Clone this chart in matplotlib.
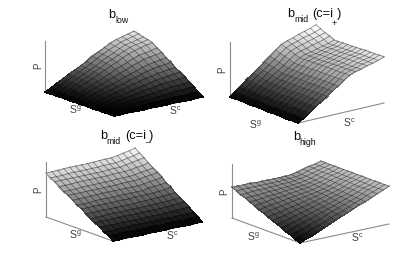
import numpy as np
import matplotlib
matplotlib.use("Agg")
import matplotlib.pyplot as plt

plt.rcParams['font.family'] = ['Liberation Sans', 'DejaVu Sans']
plt.rcParams['mathtext.fontset'] = 'custom'
plt.rcParams['mathtext.rm'] = 'Liberation Sans'
plt.rcParams['mathtext.it'] = 'Liberation Sans'
plt.rcParams['mathtext.default'] = 'rm'

# Heights, % of the P axis. Row: along S^g, column: along S^c side.
low = [
 [0,6,12,19,25,31,37,43,50,56,62,68,73,76,79,82],
 [0,6,12,19,24,30,36,42,49,55,61,66,71,74,77,80],
 [0,6,11,18,24,29,35,40,47,53,58,64,69,71,74,77],
 [0,5,11,17,23,28,34,39,46,51,57,62,67,70,72,75],
 [0,5,11,17,22,27,33,38,44,49,55,60,64,67,70,72],
 [0,5,9,15,20,24,29,34,40,44,49,54,58,60,62,65],
 [0,4,9,14,18,22,27,31,36,40,45,49,53,55,57,59],
 [0,4,8,12,16,20,23,27,32,35,39,43,46,48,50,52],
 [0,3,7,11,14,17,21,24,28,31,35,38,41,43,44,46],
 [0,3,6,9,12,15,18,21,24,27,30,32,35,36,38,39],
 [0,2,5,8,10,12,15,17,20,22,25,27,29,30,32,33],
 [0,2,4,6,8,10,12,14,16,18,20,22,23,24,25,26],
 [0,1,3,5,6,7,9,10,12,13,15,16,18,18,19,20],
 [0,1,2,3,4,5,6,7,8,9,10,11,12,12,13,13],
 [0,1,1,2,2,3,3,4,4,5,5,6,6,6,7,7],
 [0,0,0,0,0,0,0,0,0,0,0,0,0,0,0,0],
]
mid_plus = [
 [0,8,16,25,33,41,49,57,66,74,78,81,85,88,91,95],
 [0,8,15,24,32,39,47,55,63,71,75,78,82,84,87,91],
 [0,7,15,23,30,38,45,52,61,68,72,75,78,81,84,87],
 [0,7,14,22,29,36,43,50,58,65,69,71,75,77,80,84],
 [0,7,13,21,28,34,41,48,55,62,66,68,71,74,76,80],
 [0,7,13,21,28,34,41,48,55,62,66,68,71,74,76,80],
 [0,7,14,21,28,35,42,48,56,63,66,69,72,75,77,81],
 [0,7,14,21,28,35,42,48,56,63,66,69,72,75,77,81],
 [0,7,14,21,28,35,42,48,56,63,66,69,72,75,77,81],
 [0,7,14,22,28,35,42,49,57,64,67,70,73,76,78,82],
 [0,7,14,22,28,35,42,49,57,64,67,70,73,76,78,82],
 [0,7,14,22,29,36,43,50,57,64,68,70,74,77,79,83],
 [0,7,14,22,29,36,43,50,57,64,68,70,74,77,79,83],
 [0,7,14,22,29,36,43,50,57,64,68,70,74,77,79,83],
 [0,7,14,22,29,36,43,50,58,65,69,71,75,77,80,84],
 [0,7,14,22,29,36,43,50,58,65,69,71,75,77,80,84],
]
mid_minus = [
 [80,80,80,81,81,81,81,81,81,82,82,82,84,86,88,91],
 [74,74,74,75,75,75,75,75,75,76,76,76,78,80,82,85],
 [70,70,70,70,70,70,70,70,70,71,71,71,73,75,77,79],
 [64,64,64,65,65,65,65,65,65,66,66,66,67,69,70,73],
 [58,58,58,59,59,59,59,59,59,60,60,60,61,63,64,66],
 [54,54,54,54,54,54,54,54,54,55,55,55,56,58,59,61],
 [48,48,48,49,49,49,49,49,49,49,49,49,50,52,53,55],
 [42,42,42,43,43,43,43,43,43,43,43,43,45,46,47,48],
 [38,38,38,38,38,38,38,38,38,39,39,39,39,40,41,43],
 [32,32,32,32,32,32,32,32,32,33,33,33,34,34,35,36],
 [26,26,26,27,27,27,27,27,27,27,27,27,28,28,29,30],
 [22,22,22,22,22,22,22,22,22,22,22,22,23,23,24,25],
 [16,16,16,16,16,16,16,16,16,16,16,16,17,17,18,18],
 [10,10,10,11,11,11,11,11,11,11,11,11,11,11,11,12],
 [6,6,6,6,6,6,6,6,6,6,6,6,6,6,6,6],
 [0,0,0,0,0,0,0,0,0,0,0,0,0,0,0,0],
]
high = [
 [57,57,57,57,56,56,56,56,56,56,57,59,62,65,67,70],
 [53,54,54,54,54,54,54,54,55,55,56,58,62,65,67,70],
 [49,50,51,51,51,52,52,53,53,54,56,58,61,64,67,70],
 [46,47,47,48,49,49,50,51,52,53,55,57,61,64,67,70],
 [42,43,44,46,46,47,49,50,51,52,54,57,60,64,66,70],
 [38,40,41,43,44,45,47,48,50,51,54,56,60,64,66,70],
 [34,36,38,40,41,43,45,47,48,50,53,56,60,63,66,70],
 [30,33,35,37,39,41,43,45,47,49,52,55,59,63,66,70],
 [27,29,31,34,36,38,41,44,46,49,52,55,59,63,66,70],
 [23,26,28,31,34,36,39,42,45,48,51,54,58,63,66,70],
 [19,22,25,28,31,34,37,41,43,47,50,54,58,62,66,70],
 [15,19,22,25,29,32,35,39,42,46,50,53,58,62,66,70],
 [11,15,19,23,26,30,34,38,41,45,49,53,57,62,65,70],
 [8,12,15,20,24,27,32,36,40,44,48,52,57,62,65,70],
 [4,8,12,17,21,25,30,34,38,43,48,52,57,61,65,70],
 [0,5,9,14,19,23,28,33,37,42,47,51,56,61,65,70],
]
surfaces = [low, mid_plus, mid_minus, high]

# Title pieces: (text, x, baseline y, font size) in pixels / points
title_parts = [
    [("b",108,18,9.2),("low",115,23,6.3)],
    [("b",287,17,9.2),("mid",294,22,6.3),("(c=i",312,17,9.2),("+",332,26,6.3),(")",337,17,9.2)],
    [("b",100,139,9.2),("mid",106,144,6.3),("(c=i",125,139,9.2),("_",145,141,6.3),(")",149,139,9.2)],
    [("b",293,140,9.2),("high",299,145,6.3)],
]

# Panel geometry in pixels: left, bottom, right base corners, P-axis top
corners = [((45,92),(114,116),(203,97),41),
           ((230,97),(298,123),(384,103),42),
           ((46,217),(113,241),(202,222),162),
           ((232,218),(300,243),(389,224),164)]
sg_pos = [(75,110),(255,125),(75,235),(253,237)]
sc_pos = [(175,111),(349,123),(172,236),(357,238)]
p_pos = [(38,66),(222,70),(38,190),(224,192)]

fig = plt.figure(figsize=(4.15, 2.63), dpi=100)
ax = fig.add_axes([0, 0, 1, 1])
ax.set_xlim(0, 415); ax.set_ylim(263, 0); ax.axis('off')

for k, Z in enumerate(surfaces):
    Z = np.array(Z, float)
    L, B, R, top = (np.array(c, float) if isinstance(c, tuple) else c for c in corners[k])
    n, m = Z.shape
    u, v = np.meshgrid(np.linspace(0, 1, n), np.linspace(0, 1, m), indexing='ij')
    X = L[0] + u*(B[0]-L[0]) + v*(R[0]-B[0])
    Yb = L[1] + u*(B[1]-L[1]) + v*(R[1]-B[1])
    Y = Yb - Z/100*(L[1]-top)
    ax.plot([L[0], L[0]], [L[1], top], color='0.55', lw=0.8, zorder=1)
    ax.plot([L[0], B[0], R[0]], [L[1], B[1], R[1]], color='0.55', lw=0.8, zorder=1)
    C = 0.25*(Z[:-1,:-1]+Z[1:,:-1]+Z[:-1,1:]+Z[1:,1:])
    ax.pcolormesh(X, Y, C, cmap='gray', vmin=0, vmax=92, shading='flat',
                  edgecolors='face', linewidth=0.3, zorder=2)
    ax.plot(X, Y, color='black', alpha=0.42, lw=0.6, zorder=3)
    ax.plot(X.T, Y.T, color='black', alpha=0.42, lw=0.6, zorder=3)
    for s, x, y, fs in title_parts[k]:
        ax.text(x, y, s, ha='left', va='baseline', fontsize=fs, color='0.05')
    ax.text(*sg_pos[k], r"S$^{\mathrm{g}}$", ha='center', va='center', fontsize=7.5, color='0.25')
    ax.text(*sc_pos[k], r"S$^{\mathrm{c}}$", ha='center', va='center', fontsize=7.5, color='0.25')
    ax.text(*p_pos[k], "P", ha='center', va='center', rotation=90, fontsize=7, color='0.25')

fig.savefig("out.png", dpi=100)
